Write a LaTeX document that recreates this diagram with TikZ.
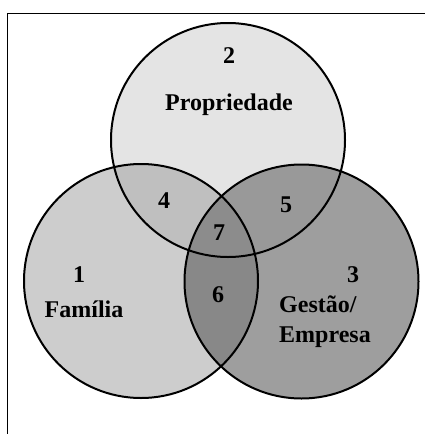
\documentclass[tikz,border=0pt]{standalone}
\usepackage{fontspec}
\setmainfont{Liberation Serif}
\definecolor{colA}{HTML}{CDCDCD}
\definecolor{colB}{HTML}{E4E4E4}
\definecolor{colC}{HTML}{9E9E9E}
\definecolor{colAB}{HTML}{BFBFBF}
\definecolor{colBC}{HTML}{999999}
\definecolor{colAC}{HTML}{888888}
\definecolor{colABC}{HTML}{8C8C8C}
\begin{document}
\begin{tikzpicture}[x=1pt,y=-1pt,
  lab/.style={font=\bfseries\fontsize{24}{26}\selectfont, inner sep=0pt, anchor=base},
  ring/.style={draw=black, line width=2pt},
  frameline/.style={draw=black, line width=1pt}]
\useasboundingbox (0,0) rectangle (425,434);
\coordinate (c1) at (141,281);
\coordinate (c2) at (228,140);
\coordinate (c3) at (301.5,281.5);
\def\rr{117pt}
% base fills
\fill[colA] (c1) circle[radius=\rr];
\fill[colB] (c2) circle[radius=\rr];
\fill[colC] (c3) circle[radius=\rr];
% pairwise overlaps
\begin{scope}
  \clip (c1) circle[radius=\rr];
  \fill[colAB] (c2) circle[radius=\rr];
  \fill[colAC] (c3) circle[radius=\rr];
\end{scope}
\begin{scope}
  \clip (c2) circle[radius=\rr];
  \fill[colBC] (c3) circle[radius=\rr];
\end{scope}
\begin{scope}
  \clip (c1) circle[radius=\rr];
  \clip (c2) circle[radius=\rr];
  \fill[colABC] (c3) circle[radius=\rr];
\end{scope}
% outlines
\draw[ring] (c1) circle[radius=\rr];
\draw[ring] (c2) circle[radius=\rr];
\draw[ring] (c3) circle[radius=\rr];
% frame
\coordinate (fa) at (7.5,434);
\coordinate (fb) at (7.5,13);
\coordinate (fc) at (425,13);
\draw[frameline] (fa) -- (fb) -- (fc);
% labels
\node[lab] (n2) at (229,63) {2};
\node[lab] (t2) at (229,110) {Propriedade};
\node[lab] (n4) at (164,208) {4};
\node[lab] (n5) at (286,212) {5};
\node[lab] (n7) at (219,240) {7};
\node[lab] (n1) at (79,282) {1};
\node[lab] (t1) at (84,317) {Família};
\node[lab] (n6) at (218,302) {6};
\node[lab] (n3) at (353,282) {3};
\node[lab, anchor=base west] (t3a) at (279,312) {Gestão/};
\node[lab, anchor=base west] (t3b) at (279,342) {Empresa};
\end{tikzpicture}
\end{document}
